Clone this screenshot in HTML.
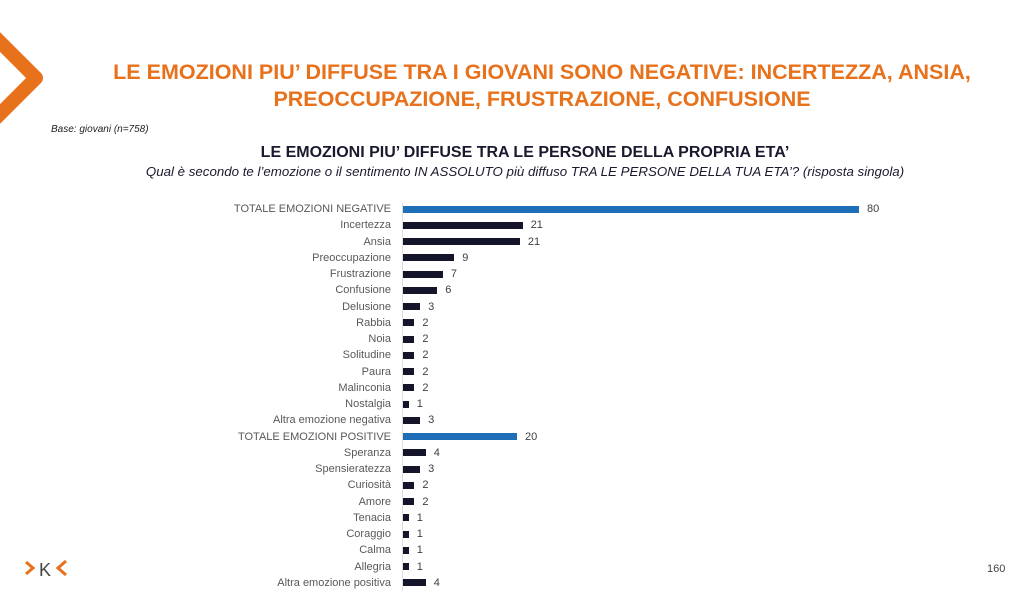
<!DOCTYPE html>
<html><head><meta charset="utf-8"><style>
body{margin:0;width:1024px;height:614px;background:#fff;position:relative;overflow:hidden;font-family:"Liberation Sans",sans-serif}
.t{position:absolute;left:0;width:1024px;text-align:center}
.lab{position:absolute;right:633px;font-size:11px;color:#595959;white-space:nowrap;line-height:12px}
.bar{position:absolute;left:403px;height:7px;background:#14142b}
.val{position:absolute;font-size:11px;color:#404040;line-height:12px}
</style></head><body>
<svg style="position:absolute;left:0;top:0" width="60" height="140"><polyline points="-8,34 36,78 -8,122" fill="none" stroke="#e8711c" stroke-width="14" stroke-linejoin="round"/></svg>
<div class="t" style="top:59px;left:30px;font-size:21.5px;font-weight:bold;color:#e8711c;line-height:27px">LE EMOZIONI PIU’ DIFFUSE TRA I GIOVANI SONO NEGATIVE: INCERTEZZA, ANSIA,<br>PREOCCUPAZIONE, FRUSTRAZIONE, CONFUSIONE</div>
<div style="position:absolute;left:51px;top:124px;font-size:10px;font-style:italic;color:#222">Base: giovani (n=758)</div>
<div class="t" style="top:144px;left:13px;font-size:16px;font-weight:bold;color:#1a1a2e">LE EMOZIONI PIU’ DIFFUSE TRA LE PERSONE DELLA PROPRIA ETA’</div>
<div class="t" style="top:164px;left:13px;font-size:13.3px;font-style:italic;color:#1a1a2e">Qual è secondo te l’emozione o il sentimento IN ASSOLUTO più diffuso TRA LE PERSONE DELLA TUA ETA’? (risposta singola)</div>
<div style="position:absolute;left:402px;top:203px;width:1px;height:388px;background:#ddd"></div>
<div id="c"></div>
<svg style="position:absolute;left:24px;top:558px" width="50" height="22"><polyline points="2,4 9,10 2,16" fill="none" stroke="#e8711c" stroke-width="3"/><text x="15" y="18" font-family="Liberation Sans" font-size="18" fill="#444">K</text><polyline points="42,3 34,10 42,17" fill="none" stroke="#e8711c" stroke-width="3"/></svg>
<div style="position:absolute;left:987px;top:563px;font-size:11px;color:#444">160</div>
<script>
var d=[["TOTALE EMOZIONI NEGATIVE",80,1],["Incertezza",21],["Ansia",20.5],["Preoccupazione",9],["Frustrazione",7],["Confusione",6],["Delusione",3],["Rabbia",2],["Noia",2],["Solitudine",2],["Paura",2],["Malinconia",2],["Nostalgia",1],["Altra emozione negativa",3],["TOTALE EMOZIONI POSITIVE",20,1],["Speranza",4],["Spensieratezza",3],["Curiosità",2],["Amore",2],["Tenacia",1],["Coraggio",1],["Calma",1],["Allegria",1],["Altra emozione positiva",4]];
var h="";d.forEach(function(r,i){var y=209+i*16.25;var w=r[1]*5.7;
h+='<div class="lab" style="top:'+(y-6)+'px">'+r[0]+'</div><div class="bar" style="top:'+(y-3.5)+'px;width:'+w+'px;background:'+(r[2]?'#1f6fb8':'#14142b')+'"></div><div class="val" style="top:'+(y-6)+'px;left:'+(403+w+8)+'px">'+Math.round(r[1])+'</div>';});
document.getElementById("c").innerHTML=h;
</script>
</body></html>
